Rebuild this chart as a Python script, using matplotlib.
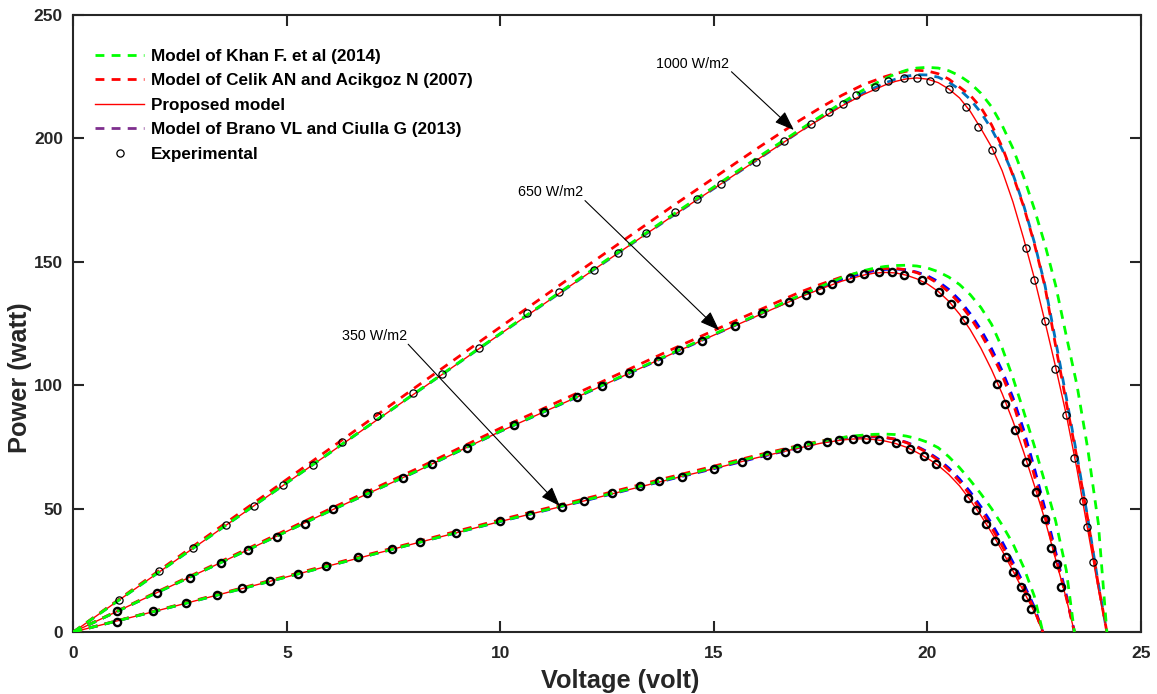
import matplotlib
matplotlib.use("Agg")
import matplotlib.pyplot as plt
from matplotlib.lines import Line2D

plt.rcParams['font.family'] = ['Liberation Sans', 'DejaVu Sans']

# ---------------- 1000 W/m2 ----------------
v_1000 = [0, 2, 4, 6, 8, 10, 12, 14, 16, 17, 17.5, 18, 18.5, 19, 19.25, 19.5, 19.75,
          20, 20.25, 20.5, 20.75, 21, 21.25, 21.5, 21.75, 22, 22.25, 22.5, 22.75,
          23, 23.25, 23.5, 23.75, 24.0, 24.2]
proposed_1000 = [0, 24.2, 48.4, 72.5, 96.7, 120.8, 144.6, 168.2, 191.2, 202.6, 208.0, 213.2,
                 217.8, 221.6, 223.1, 224.1, 224.5, 224.0, 222.6, 220.0, 216.4, 211.0,
                 204.0, 196.5, 186.8, 174.3, 159.5, 143.5, 125.8, 107.4, 88.0, 66.0, 41.6,
                 17.5, 0]
khan_1000 = [0, 24.3, 48.5, 72.6, 96.8, 121.0, 145.0, 168.7, 192.0, 203.4, 209.0, 214.5,
             219.7, 224.2, 226.1, 227.6, 228.5, 228.8, 228.5, 227.4, 225.4, 222.4, 218.3,
             212.8, 205.2, 196.0, 184.5, 171.5, 157.0, 140.5, 120.0, 100.0, 74.5, 44.0, 0]
celik_1000 = [0, 24.8, 49.5, 74.2, 99.0, 123.6, 148.0, 172.2, 195.8, 207.2, 212.5, 217.5,
              221.8, 225.0, 226.3, 227.2, 227.6, 227.3, 226.2, 224.0, 220.8, 217.5, 212.5,
              205.5, 196.5, 185.0, 172.5, 157.5, 140.0, 116.0, 93.0, 70.5, 46.0, 19.0, 0]
brano_1000 = [0, 24.2, 48.4, 72.5, 96.7, 120.8, 144.6, 168.2, 191.2, 202.7, 208.3, 213.6,
              218.4, 222.4, 224.0, 225.2, 225.8, 225.7, 224.8, 222.8, 219.8, 215.8, 210.5,
              203.8, 195.5, 185.5, 173.0, 158.0, 140.5, 118.0, 95.0, 71.5, 46.5, 19.5, 0]
exp_v_1000 = [1.07, 2.01, 2.81, 3.57, 4.24, 4.91, 5.62, 6.29, 7.10, 7.95, 8.64, 9.51, 10.62,
              11.37, 12.19, 12.75, 13.42, 14.09, 14.61, 15.17, 15.98, 16.64, 17.27, 17.70,
              18.03, 18.32, 18.76, 19.08, 19.46, 19.76, 20.07, 20.50, 20.89, 21.19, 21.51,
              22.30, 22.50, 22.74, 22.99, 23.25, 23.44, 23.63, 23.74, 23.88]
exp_p_1000 = [13.0, 24.7, 33.9, 43.2, 51.2, 59.6, 67.5, 76.9, 87.6, 96.8, 104.7, 115.1, 129.1,
              137.6, 146.7, 153.7, 161.7, 170.1, 175.6, 181.6, 190.6, 198.8, 206.0, 210.6,
              213.8, 217.6, 220.8, 223.1, 224.6, 224.5, 223.1, 219.9, 212.8, 204.5, 195.3,
              155.6, 142.6, 126.1, 106.7, 88.0, 70.4, 53.2, 42.4, 28.4]

# ---------------- 650 W/m2 ----------------
v_650 = [0, 2, 4, 6, 8, 10, 12, 14, 16, 17, 17.5, 18, 18.5, 18.75, 19, 19.25, 19.5, 19.75,
         20, 20.25, 20.5, 20.75, 21, 21.25, 21.5, 21.75, 22, 22.25, 22.5, 22.75, 23, 23.25,
         23.44]
proposed_650 = [0, 16.3, 32.6, 49.0, 64.8, 81.3, 96.8, 112.6, 128.0, 135.6, 139.0, 142.2,
                144.6, 145.4, 145.7, 145.5, 144.6, 143.1, 141.0, 138.0, 134.0, 128.8, 122.5,
                115.0, 106.3, 96.5, 85.5, 73.0, 59.5, 45.5, 29.5, 13.5, 0]
khan_650 = [0, 16.3, 32.6, 49.0, 64.9, 81.4, 97.0, 112.9, 128.5, 136.3, 140.0, 143.6, 146.4,
            147.4, 148.1, 148.5, 148.6, 148.3, 147.5, 146.0, 143.8, 140.8, 136.7, 131.5,
            124.7, 115.0, 103.0, 89.5, 75.5, 60.5, 45.0, 25.0, 0]
celik_650 = [0, 16.6, 33.1, 49.8, 65.8, 82.6, 98.4, 114.4, 130.0, 137.6, 140.9, 143.9, 146.1,
             146.9, 147.3, 147.3, 146.8, 145.6, 143.8, 141.2, 137.8, 133.2, 127.5, 120.8,
             113.0, 104.0, 93.0, 79.0, 63.5, 47.5, 30.5, 14.0, 0]
brano_650 = [0, 16.3, 32.6, 49.0, 64.8, 81.3, 96.8, 112.6, 128.2, 136.0, 139.6, 142.9, 145.5,
             146.4, 146.9, 147.1, 146.8, 145.8, 144.3, 142.0, 138.8, 134.5, 129.0, 122.5,
             114.8, 105.8, 95.0, 82.0, 66.5, 50.0, 32.5, 15.0, 0]
exp_v_650 = [1.03, 1.95, 2.73, 3.46, 4.10, 4.77, 5.42, 6.08, 6.87, 7.72, 8.39, 9.22, 10.32,
             11.03, 11.80, 12.37, 13.01, 13.69, 14.17, 14.71, 15.50, 16.13, 16.76, 17.16,
             17.49, 17.77, 18.19, 18.51, 18.86, 19.17, 19.45, 19.88, 20.26, 20.56, 20.85,
             21.63, 21.82, 22.05, 22.31, 22.55, 22.74, 22.90, 23.03, 23.13]
exp_p_650 = [8.5, 15.9, 21.9, 28.1, 33.2, 38.6, 43.8, 49.8, 56.4, 62.4, 68.1, 74.6, 83.9,
             89.1, 95.1, 99.7, 105.1, 109.9, 114.3, 118.0, 123.9, 129.1, 133.6, 136.4, 138.7,
             141.1, 143.4, 144.9, 145.7, 145.7, 144.8, 142.5, 137.9, 132.8, 126.5, 100.6,
             92.5, 82.0, 68.9, 56.7, 45.7, 33.9, 27.6, 18.1]

# ---------------- 350 W/m2 ----------------
v_350 = [0, 2, 4, 6, 8, 10, 12, 14, 15, 16, 17, 17.5, 18, 18.25, 18.5, 18.75, 19, 19.25,
         19.5, 19.75, 20, 20.25, 20.5, 20.75, 21, 21.25, 21.5, 21.75, 22, 22.25, 22.5, 22.7]
proposed_350 = [0, 8.8, 17.8, 26.9, 35.9, 44.8, 53.3, 62.0, 66.2, 70.6, 74.6, 76.5, 77.8,
                78.2, 78.3, 78.0, 77.4, 76.4, 74.9, 72.8, 70.4, 67.5, 63.8, 59.2, 53.5, 47.2,
                40.3, 32.9, 24.8, 16.5, 8.2, 0]
khan_350 = [0, 8.8, 17.8, 26.9, 35.9, 44.9, 53.5, 62.3, 66.6, 71.1, 75.3, 77.2, 78.8, 79.4,
            79.8, 80.1, 80.2, 80.0, 79.4, 78.4, 76.9, 74.7, 71.0, 66.6, 61.5, 56.0, 50.0,
            43.3, 35.8, 26.3, 14.6, 0]
celik_350 = [0, 8.95, 18.1, 27.3, 36.4, 45.5, 54.1, 62.9, 67.2, 71.6, 75.6, 77.4, 78.8, 79.2,
             79.4, 79.3, 78.9, 78.1, 76.8, 75.0, 72.6, 69.6, 65.6, 61.0, 55.5, 49.3, 42.3,
             34.8, 26.7, 18.2, 9.3, 0]
brano_350 = [0, 8.8, 17.8, 26.9, 35.9, 44.8, 53.3, 62.0, 66.2, 70.6, 74.8, 76.8, 78.3, 78.8,
             79.1, 79.1, 78.8, 78.1, 76.9, 75.2, 73.0, 70.1, 66.4, 62.0, 56.8, 50.8, 44.0,
             36.5, 28.3, 19.6, 10.2, 0]
exp_v_350 = [1.02, 1.87, 2.64, 3.36, 3.96, 4.61, 5.26, 5.91, 6.66, 7.47, 8.12, 8.95, 10.0,
             10.70, 11.45, 11.96, 12.61, 13.26, 13.71, 14.26, 15.0, 15.65, 16.24, 16.66,
             16.94, 17.21, 17.64, 17.92, 18.25, 18.55, 18.86, 19.27, 19.60, 19.91, 20.21,
             20.95, 21.14, 21.38, 21.59, 21.84, 22.0, 22.2, 22.3, 22.43]
exp_p_350 = [4.2, 8.5, 11.6, 15.0, 17.7, 20.5, 23.4, 26.6, 30.3, 33.6, 36.3, 40.1, 44.9, 47.5,
             50.6, 53.2, 56.4, 59.2, 61.1, 62.8, 66.2, 69.0, 71.7, 73.1, 74.4, 75.6, 77.0,
             77.7, 78.2, 78.3, 77.8, 76.5, 74.0, 71.3, 68.1, 54.2, 49.4, 43.8, 36.9, 30.5,
             24.2, 18.1, 14.3, 9.3]

legend_labels = ["Model of Khan F. et al (2014)",
                 "Model of Celik AN and Acikgoz N (2007)",
                 "Proposed model",
                 "Model of Brano VL and Ciulla G (2013)",
                 "Experimental"]

irradiance_labels = ["1000 W/m2", "650 W/m2", "350 W/m2"]

GREEN = '#00FF00'
RED = '#FF0000'
DASH = (0, (3.2, 2.6))
AX_COLOR = '#262626'

fig = plt.figure(figsize=(11.57, 6.94), dpi=100)
ax = fig.add_axes([0.0634, 0.0893, 0.9228, 0.8891])

sets = [
    (v_1000, proposed_1000, khan_1000, celik_1000, brano_1000, '#0072BD', exp_v_1000, exp_p_1000, 0.9),
    (v_650, proposed_650, khan_650, celik_650, brano_650, '#0000FF', exp_v_650, exp_p_650, 1.7),
    (v_350, proposed_350, khan_350, celik_350, brano_350, '#0000FF', exp_v_350, exp_p_350, 1.7),
]

for v, prop, khan, celik, brano, bcol, ev, ep, mew in sets:
    ax.plot(v, brano, color=bcol, lw=2.0, ls=DASH, zorder=2)
    ax.plot(v, celik, color=RED, lw=2.0, ls=DASH, zorder=3)
    ax.plot(v, prop, color=RED, lw=1.0, ls='-', zorder=4)
    ax.plot(v, khan, color=GREEN, lw=2.0, ls=DASH, zorder=5)
    ax.plot(ev, ep, ls='none', marker='o', ms=5.2, mfc='none', mec='k', mew=mew, zorder=6)

# irradiance annotations
arrow_style = dict(arrowstyle='-|>,head_length=0.75,head_width=0.28', color='k', lw=0.8,
                   shrinkA=0, shrinkB=0, mutation_scale=16)
ax.annotate('', xy=(16.87, 203.4), xytext=(15.41, 227.0), arrowprops=arrow_style, zorder=7)
ax.annotate('', xy=(15.12, 122.3), xytext=(11.98, 174.8), arrowprops=arrow_style, zorder=7)
ax.annotate('', xy=(11.39, 51.1), xytext=(7.84, 116.6), arrowprops=arrow_style, zorder=7)
ax.text(15.35, 230.0, irradiance_labels[0], ha='right', va='center', fontsize=10.3)
ax.text(11.93, 178.4, irradiance_labels[1], ha='right', va='center', fontsize=10.3)
ax.text(7.81, 120.0, irradiance_labels[2], ha='right', va='center', fontsize=10.3)

ax.set_xlim(0, 25)
ax.set_ylim(0, 250)
ax.set_xticks([0, 5, 10, 15, 20, 25])
ax.set_yticks([0, 50, 100, 150, 200, 250])
ax.tick_params(direction='in', length=8, width=1.5, top=True, right=True,
               colors=AX_COLOR, labelsize=12.5)
ax.tick_params(axis='x', pad=10)
ax.tick_params(axis='y', pad=7.5)
for lab in ax.get_xticklabels() + ax.get_yticklabels():
    lab.set_fontweight('bold')
for s in ax.spines.values():
    s.set_linewidth(1.5)
    s.set_color(AX_COLOR)

ax.set_xlabel('Voltage (volt)', fontsize=18.3, fontweight='bold', color=AX_COLOR)
ax.set_ylabel('Power (watt)', fontsize=18.3, fontweight='bold', color=AX_COLOR)
ax.xaxis.label.set_va('center')
ax.yaxis.label.set_va('center')
ax.xaxis.set_label_coords(0.512, -0.079)
ax.yaxis.set_label_coords(-0.0496, 0.412)

handles = [
    Line2D([], [], color=GREEN, lw=2.0, ls=DASH),
    Line2D([], [], color=RED, lw=2.0, ls=DASH),
    Line2D([], [], color=RED, lw=1.0, ls='-'),
    Line2D([], [], color='#7E2F8E', lw=2.0, ls=DASH),
    Line2D([], [], ls='none', marker='o', ms=5.2, mfc='none', mec='k', mew=0.9),
]
leg = ax.legend(handles, legend_labels, loc='upper left', bbox_to_anchor=(0.0206, 0.945),
                frameon=False, borderpad=0, borderaxespad=0, handlelength=2.85,
                handletextpad=0.4, labelspacing=0.55,
                prop={'weight': 'bold', 'size': 12.3})

fig.savefig('out.png', dpi=100)
